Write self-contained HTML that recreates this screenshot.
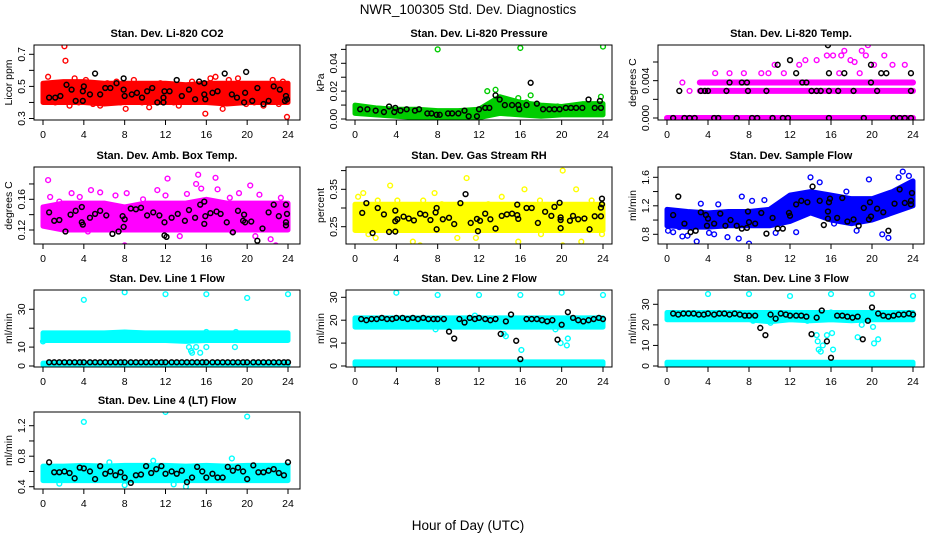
<!DOCTYPE html>
<html><head><meta charset="utf-8"><style>
html,body{margin:0;padding:0;background:#fff;}
svg{display:block;font-family:"Liberation Sans",Arial,sans-serif;}
</style></head><body>
<svg id="chart" width="936" height="540" viewBox="0 0 936 540" xmlns="http://www.w3.org/2000/svg">
<rect x="0" y="0" width="936" height="540" fill="#fff"/>
<text x="468" y="14" text-anchor="middle" font-size="13.5">NWR_100305  Std. Dev. Diagnostics</text>
<text x="468" y="530" text-anchor="middle" font-size="13.5">Hour of Day (UTC)</text>
</svg>
<script>
// ---------- shared data ----------
const bandHrs = [0,2,4,6,8,10,12,14,16,18,20,22,24];
const xTicks = [0,4,8,12,16,20,24];
const blkHr = [0.6,1.1,1.6,2.1,2.6,3.1,3.6,4.0,4.6,5.1,5.6,6.1,6.6,7.1,7.6,8.0,8.6,9.1,9.6,10.1,10.6,11.1,11.6,12.0,12.6,13.1,13.6,14.1,14.6,15.1,15.6,16.0,16.6,17.1,17.6,18.1,18.6,19.1,19.6,20.0,20.6,21.1,21.6,22.1,22.6,23.1,23.6,24.0];

// P1 CO2
const co2BandLo = [0.40,0.40,0.40,0.39,0.40,0.40,0.40,0.40,0.40,0.39,0.40,0.40,0.40];
const co2BandHi = [0.52,0.53,0.53,0.52,0.52,0.52,0.52,0.51,0.52,0.52,0.52,0.52,0.52];
const co2Hr = [0.1,0.5,1.2,1.8,2.1,2.2,2.6,3.1,3.5,4.2,4.9,5.6,6.3,7.2,7.6,8.1,8.9,9.7,10.4,11.5,12.8,13.3,14.6,15.9,16.4,16.9,17.6,18.2,19.1,19.9,20.7,21.6,22.5,23.1,23.5,23.9];
const co2Val = [0.42,0.56,0.40,0.44,0.75,0.66,0.38,0.55,0.40,0.54,0.39,0.38,0.52,0.53,0.40,0.36,0.54,0.40,0.37,0.52,0.40,0.38,0.53,0.33,0.55,0.56,0.36,0.54,0.55,0.39,0.40,0.38,0.54,0.39,0.53,0.31];
const co2BlkHr = [0.6,1.2,1.7,2.3,2.8,3.2,3.9,4.0,3.9,4.6,5.1,5.6,6.1,6.6,7.2,7.9,8.0,7.9,8.7,9.2,9.7,10.2,10.7,11.2,11.8,11.9,11.8,12.4,13.1,13.6,14.3,14.9,15.3,15.8,15.9,15.8,16.6,17.1,17.8,18.5,19.0,19.7,19.9,19.8,20.5,21.0,21.6,22.1,22.6,23.2,23.8,23.9,23.7];
const co2BlkVal = [0.43,0.43,0.44,0.51,0.48,0.41,0.41,0.50,0.47,0.45,0.58,0.45,0.49,0.49,0.52,0.55,0.44,0.48,0.45,0.46,0.43,0.47,0.49,0.40,0.43,0.47,0.40,0.47,0.54,0.44,0.48,0.42,0.53,0.52,0.42,0.45,0.46,0.47,0.58,0.45,0.43,0.40,0.59,0.46,0.41,0.49,0.39,0.41,0.50,0.48,0.44,0.42,0.41];

// P2 Pressure
const presBandLo = [0.004,0.003,0.002,0.001,0.001,0.001,0.001,0.004,0.003,0.002,0.003,0.003,0.003];
const presBandHi = [0.010,0.008,0.007,0.007,0.006,0.006,0.007,0.016,0.012,0.010,0.009,0.011,0.011];
const presHr = [8,16,24,12.8,13.6,17,14.2,15.8,16.6,18.2,19.6,21.3,23.8];
const presVal = [0.050,0.051,0.052,0.020,0.021,0.017,0.014,0.015,0.012,0.003,0.009,0.004,0.016];
const presBlkHr = [0.5,1.2,2,2.8,3.3,3.8,3.9,4.4,5.0,5.8,6.2,7.0,7.4,7.9,8.2,9.0,9.4,10.0,10.6,11.0,11.8,12.0,12.6,13.0,13.6,14.0,14.5,15.2,15.8,15.9,16.6,17.0,17.6,18.2,18.8,19.3,19.8,20.4,20.9,21.4,22.0,22.6,23.2,23.7,23.8];
const presBlkVal = [0.007,0.007,0.006,0.005,0.009,0.005,0.008,0.006,0.007,0.006,0.007,0.004,0.004,0.003,0.003,0.004,0.004,0.004,0.006,0.002,0.002,0.007,0.008,0.008,0.017,0.014,0.010,0.010,0.010,0.007,0.010,0.026,0.011,0.007,0.007,0.007,0.007,0.008,0.008,0.008,0.008,0.014,0.008,0.013,0.008];

// P3 Li-820 Temp (discrete levels)
const tempLevels = [0,0.0029,0.0038];
const tempLevelStart = [0,3.2,3.2];
const tempLevelEnd = [24,24,24];
const tempHr = [1.5,2.2,4.7,6.1,7.5,9.2,9.9,10.5,11.4,12.9,13.5,14.6,15.6,16.2,17.0,17.3,17.9,18.3,19.0,19.4,19.6,20.2,21.2,22.0,23.2,23.9,18.8,16.8];
const tempVal = [0.0038,0.0029,0.0048,0.0048,0.0048,0.0048,0.0048,0.0057,0.0048,0.0057,0.0062,0.0062,0.0067,0.0067,0.0067,0.0072,0.0062,0.0060,0.0072,0.0067,0.0078,0.0057,0.0067,0.0057,0.0057,0.0038,0.0048,0.0048];
const tempBlkHr = [0.6,1.2,1.7,2.2,2.7,3.3,3.7,4.0,4.6,5.0,5.8,6.1,6.8,7.3,7.8,7.9,8.3,8.8,9.7,10.3,10.8,11.3,11.8,12.0,12.6,13.2,13.6,14.1,14.6,15.0,15.8,15.8,15.7,15.8,16.7,17.3,18.2,19.2,19.9,19.9,20.5,20.9,21.4,22.1,22.7,23.2,23.8,23.8,23.8];
const tempBlkVal = [0,0.0029,0,0,0,0.0029,0.0029,0.0029,0,0,0.0029,0.0038,0,0.0038,0.0038,0.0029,0,0,0.0029,0,0.0057,0,0,0.0062,0.0048,0.0038,0.0038,0.0029,0.0029,0.0029,0.0048,0.0029,0.0078,0,0.0029,0.0048,0.0029,0,0.0057,0.0038,0.0029,0.0048,0.0048,0,0,0,0,0.0048,0.0029];

// P4 Amb Box Temp
const ambBandLo = [0.125,0.12,0.12,0.12,0.12,0.12,0.12,0.12,0.12,0.12,0.12,0.12,0.12];
const ambBandHi = [0.15,0.155,0.155,0.155,0.15,0.155,0.155,0.155,0.16,0.155,0.155,0.155,0.155];
const ambHr = [0.5,0.7,1.6,2.8,3.6,4.7,5.6,7.1,8.0,8.2,9.8,11.2,12.2,12.0,14.1,15.0,15.2,15.5,16.9,17.1,18.3,19.2,20.3,21.2,22.3,22.8,23.3,4.4,6.8,13.4,18.5,20.8];
const ambVal = [0.185,0.163,0.157,0.168,0.163,0.172,0.169,0.165,0.100,0.168,0.160,0.172,0.187,0.165,0.167,0.180,0.192,0.174,0.188,0.173,0.162,0.168,0.178,0.166,0.108,0.100,0.162,0.118,0.115,0.112,0.118,0.112];
const ambBlkHr = [0.6,1.1,1.6,2.2,2.7,3.2,3.8,3.9,3.8,4.6,5.1,5.6,6.2,6.8,7.4,7.9,7.8,8.0,8.6,9.1,9.6,10.2,10.8,11.4,11.9,12.1,11.9,12.6,13.2,13.9,14.3,14.9,15.4,15.8,15.8,15.9,16.4,17.0,17.4,18.0,18.6,19.1,19.7,19.8,19.6,20.4,21.0,21.5,22.1,22.6,23.1,23.8,23.9,23.8,23.8];
const ambBlkVal = [0.143,0.132,0.133,0.118,0.140,0.145,0.150,0.127,0.130,0.136,0.141,0.145,0.139,0.115,0.118,0.124,0.138,0.134,0.148,0.147,0.149,0.139,0.143,0.139,0.130,0.111,0.113,0.136,0.141,0.132,0.146,0.136,0.153,0.157,0.128,0.138,0.142,0.144,0.141,0.130,0.117,0.145,0.140,0.130,0.132,0.131,0.106,0.122,0.143,0.153,0.138,0.153,0.141,0.126,0.130];

// P5 Gas Stream RH
const rhBandLo = [0.24,0.24,0.24,0.24,0.24,0.24,0.24,0.24,0.24,0.24,0.24,0.24,0.24];
const rhBandHi = [0.31,0.31,0.31,0.31,0.31,0.31,0.31,0.31,0.31,0.31,0.31,0.31,0.31];
const rhHr = [0.3,0.8,1.3,2.2,3.4,4.1,5.6,6.3,6.6,7.7,8.4,9.9,10.8,11.7,12.9,14.2,15.8,16.4,17.9,20.1,20.1,21.4,21.9,22.9,23.9,1.2,2.0,18.0];
const rhVal = [0.33,0.34,0.23,0.32,0.36,0.32,0.21,0.20,0.32,0.34,0.31,0.22,0.38,0.22,0.31,0.33,0.21,0.35,0.32,0.40,0.20,0.35,0.21,0.32,0.23,0.24,0.22,0.23];
const rhBlkHr = [0.7,1.1,1.7,2.2,2.8,3.3,3.9,3.9,3.9,4.1,4.7,5.2,5.7,6.3,6.8,7.3,7.8,7.9,7.9,8.5,9.1,9.6,10.2,10.7,11.2,11.8,11.9,12.1,12.6,13.1,13.6,14.2,14.7,15.2,15.7,15.7,15.8,16.6,17.1,17.7,18.4,19.0,19.3,19.9,19.8,19.9,19.9,20.8,21.1,21.6,22.2,22.7,23.2,23.8,23.8,23.9,23.9];
const rhBlkVal = [0.287,0.313,0.233,0.300,0.283,0.236,0.237,0.293,0.265,0.27,0.277,0.272,0.267,0.285,0.282,0.268,0.288,0.300,0.243,0.27,0.274,0.257,0.313,0.337,0.26,0.271,0.238,0.266,0.285,0.27,0.245,0.279,0.283,0.285,0.281,0.309,0.271,0.300,0.300,0.26,0.29,0.279,0.303,0.275,0.314,0.268,0.246,0.266,0.279,0.27,0.272,0.243,0.278,0.278,0.301,0.31,0.325];

// P6 Sample Flow
const sfBandLo = [0.92,0.9,0.9,0.92,0.92,0.92,0.98,1.1,1.0,0.95,1.0,1.1,1.2];
const sfBandHi = [1.15,1.12,1.1,1.12,1.12,1.15,1.35,1.4,1.35,1.3,1.3,1.4,1.55];
const sfHr = [0.1,0.6,1.2,1.5,2.0,2.9,3.3,4.1,4.6,5.0,5.9,7.0,7.3,8.0,8.3,9.5,10.6,12.6,14.0,14.9,16.3,17.5,18.5,19.7,20.3,21.0,21.6,22.6,23.0,23.6];
const sfVal = [0.85,0.83,0.9,0.77,0.78,0.7,1.23,0.82,0.8,1.22,0.76,0.74,1.33,0.67,1.27,1.28,0.82,0.83,1.6,1.53,0.95,1.4,0.85,1.57,1.3,0.8,0.75,1.6,1.68,1.62];
const sfBlkHr = [0.6,1.1,1.7,2.3,2.8,3.3,3.8,3.9,4.0,4.6,5.2,5.7,6.2,6.8,7.3,7.8,7.9,8.0,8.6,9.2,9.7,10.3,10.8,11.3,11.9,12.0,12.6,13.1,13.7,14.2,14.9,15.3,15.7,15.7,15.8,15.9,16.6,17.1,17.6,18.2,18.7,19.2,19.7,19.9,19.8,20.5,21.1,21.6,22.2,22.7,23.2,23.8,23.9,23.8];
const sfBlkVal = [1.07,1.33,0.95,0.83,0.85,1.11,1.07,0.92,1.02,0.95,1.09,0.92,1.0,0.92,0.88,0.89,1.12,0.97,0.95,1.1,0.81,1.03,0.88,0.88,1.1,1.06,1.22,1.27,1.25,1.47,1.27,0.93,1.02,1.12,1.25,1.3,1.03,1.31,0.98,1.01,0.92,1.17,1.01,1.05,1.25,1.16,1.11,0.85,1.23,1.43,1.24,1.22,1.38,1.27];

// P7 Line 1 Flow
const l1BandLo = [13.5,13.5,13.5,13.5,13.5,13.5,13.5,13,13.5,13.5,13.5,13.5,13.5];
const l1BandHi = [17.5,17.5,17.5,17.5,18,17.5,17.5,17.5,17.5,17.5,17.5,17.5,17.5];
const l1LowLo = [0.5,0.5,0.5,0.5,0.5,0.5,0.5,0.5,0.5,0.5,0.5,0.5,0.5];
const l1LowHi = [1.5,1.5,1.5,1.5,1.5,1.5,1.5,1.5,1.5,1.5,1.5,1.5,1.5];
const l1Hr = [4,8,12,16,20,24,14.3,14.5,14.6,15.0,15.4,16.0,18.8,16.0,18.9,0];
const l1Val = [35,39,38,38,36,38,10,8,7,10,7,10,10,18,18,13];
const l1BlkVal = [2,2,2,2,2,2,2,2,2,2,2,2,2,2,2,2,2,2,2,2,2,2,2,2,2,2,2,2,2,2,2,2,2,2,2,2,2,2,2,2,2,2,2,2,2,2,2,2];

// P8 Line 2 Flow
const l2BandLo = [17,17,17,17,17,17,17,17,17,17,17,17,17];
const l2BandHi = [21,21,21,21,21,21,21,21,21,21,21,21,21];
const l2LowLo = [0.5,0.5,0.5,0.5,0.5,0.5,0.5,0.5,0.5,0.5,0.5,0.5,0.5];
const l2LowHi = [1.8,1.8,1.8,1.8,1.8,1.8,1.8,1.8,1.8,1.8,1.8,1.8,1.8];
const l2Hr = [4,8,12,16,20,24,14.6,14.4,16.1,19.9,20.5,20.6,7.8,19.4,17.0,11.6];
const l2Val = [32,31,31,31,32,31,13,14,7,10,9,12,16,16,20,22];
const l2BlkVal = [20.5,20,20.5,20.5,21,20.5,20.5,21,21,20.5,21,20.5,21,20.5,20.5,20.5,20.5,15,12,20.5,19,21,20.5,21,20.5,20,20.5,14,19.5,22.5,11,3,20.5,20.5,20.5,20,19.5,20,11.5,18,23.5,21,20,19.5,20,20.5,21,20.5];

// P9 Line 3 Flow
const l3BandLo = [22.5,22.5,22.5,22.5,22.5,21.5,22.5,22,22.5,22,22.5,22.5,22.5];
const l3BandHi = [26,26,26,26,26,26,26,26,26,26,26,26,26];
const l3LowLo = [0.5,0.5,0.5,0.5,0.5,0.5,0.5,0.5,0.5,0.5,0.5,0.5,0.5];
const l3LowHi = [1.8,1.8,1.8,1.8,1.8,1.8,1.8,1.8,1.8,1.8,1.8,1.8,1.8];
const l3Hr = [4,8,12,16,20,24,14.6,14.7,14.8,15.0,15.2,15.6,16.1,16.2,16.0,18.6,19.0,20.1,20.2,20.6,8.4,10.1,13.7,21.8];
const l3Val = [35,35,34,35,35,34,15,12,8,7,10,15,16,8,26,14,20,19,11,13,22,21,22,23];
const l3BlkVal = [25.5,25,25.5,25.5,25.5,25,25,25.5,25,25.5,25.5,25,25.5,25,24.5,24.5,24.5,18.5,15,25,23,25.5,25,24.5,24.5,24.5,24,15.5,23.5,27,12,4,24.5,24.5,24,23.5,24,13,22,28.5,25.5,24.5,24,24.5,25,25,25.5,25];

// P10 Line 4 (LT) Flow
const l4BandLo = [0.48,0.48,0.48,0.48,0.48,0.48,0.48,0.48,0.48,0.48,0.48,0.48,0.48];
const l4BandHi = [0.67,0.67,0.68,0.67,0.68,0.68,0.68,0.67,0.68,0.67,0.68,0.68,0.68];
const l4Hr = [4,12,20,14,12.8,1.6,8,18.5,23.8,6.5,10.8];
const l4Val = [1.25,1.38,1.32,0.40,0.43,0.44,0.42,0.77,0.68,0.72,0.74];
const l4BlkVal = [0.72,0.59,0.59,0.60,0.58,0.51,0.65,0.64,0.60,0.50,0.67,0.57,0.60,0.55,0.59,0.52,0.45,0.55,0.56,0.67,0.58,0.63,0.67,0.57,0.60,0.57,0.61,0.46,0.52,0.66,0.60,0.52,0.57,0.52,0.52,0.66,0.61,0.65,0.60,0.50,0.68,0.59,0.59,0.61,0.63,0.58,0.55,0.72];

// ---------- rendering ----------
const NS = "http://www.w3.org/2000/svg";
const svg = document.getElementById("chart");
function mk(tag, attrs, parent) {
  const e = document.createElementNS(NS, tag);
  for (const k in attrs) e.setAttribute(k, attrs[k]);
  (parent || svg).appendChild(e);
  return e;
}
const cols = [{L:34,R:300,x0:43,x24:288},{L:346,R:612,x0:355,x24:603},{L:658,R:924,x0:667,x24:913}];
const rows = [{T:45,B:120},{T:167,B:244},{T:290,B:367},{T:412,B:489}];

const panels = [
  {key:"co2",title:"Stan. Dev. Li-820 CO2",ylab:"Licor ppm",c:0,r:0,color:"#ff0000",v1:0.3,p1:118.5,v2:0.7,p2:54.3,ticks:[0.3,0.4,0.5,0.6,0.7],labels:["0.3","","0.5","","0.7"],
   bands:[[co2BandLo,co2BandHi]],hr:co2Hr,val:co2Val,bh:co2BlkHr,bv:co2BlkVal},
  {key:"pressure",title:"Stan. Dev. Li-820 Pressure",ylab:"kPa",c:1,r:0,color:"#00cc00",v1:0,p1:119,v2:0.04,p2:63.3,ticks:[0,0.01,0.02,0.03,0.04,0.05],labels:["0.00","","0.02","","0.04",""],
   bands:[[presBandLo,presBandHi]],hr:presHr,val:presVal,bh:presBlkHr,bv:presBlkVal},
  {key:"li820-temp",title:"Stan. Dev. Li-820 Temp.",ylab:"degrees C",c:2,r:0,color:"#ff00ff",v1:0,p1:118,v2:0.006,p2:62,ticks:[0,0.002,0.004,0.006],labels:["0.000","","0.004",""],
   levels:true,hr:tempHr,val:tempVal,bh:tempBlkHr,bv:tempBlkVal},
  {key:"amb-box-temp",title:"Stan. Dev. Amb. Box Temp.",ylab:"degrees C",c:0,r:1,color:"#ff00ff",v1:0.12,p1:230,v2:0.16,p2:199.3,ticks:[0.12,0.14,0.16,0.18],labels:["0.12","","0.16",""],
   bands:[[ambBandLo,ambBandHi]],hr:ambHr,val:ambVal,bh:ambBlkHr,bv:ambBlkVal},
  {key:"gas-stream-rh",title:"Stan. Dev. Gas Stream RH",ylab:"percent",c:1,r:1,color:"#ffff00",v1:0.25,p1:226.7,v2:0.35,p2:189.3,ticks:[0.25,0.30,0.35,0.40],labels:["0.25","","0.35",""],
   bands:[[rhBandLo,rhBandHi]],hr:rhHr,val:rhVal,bh:rhBlkHr,bv:rhBlkVal},
  {key:"sample-flow",title:"Stan. Dev. Sample Flow",ylab:"ml/min",c:2,r:1,color:"#0000ff",v1:0.8,p1:234.3,v2:1.6,p2:177.3,ticks:[0.8,1.0,1.2,1.4,1.6],labels:["0.8","","1.2","","1.6"],
   bands:[[sfBandLo,sfBandHi]],hr:sfHr,val:sfVal,bh:sfBlkHr,bv:sfBlkVal},
  {key:"line1-flow",title:"Stan. Dev. Line 1 Flow",ylab:"ml/min",c:0,r:2,color:"#00ffff",v1:0,p1:366,v2:30,p2:309.3,ticks:[0,10,20,30],labels:["0","10","","30"],
   bands:[[l1BandLo,l1BandHi],[l1LowLo,l1LowHi]],hr:l1Hr,val:l1Val,bh:blkHr,bv:l1BlkVal},
  {key:"line2-flow",title:"Stan. Dev. Line 2 Flow",ylab:"ml/min",c:1,r:2,color:"#00ffff",v1:0,p1:366,v2:30,p2:297.3,ticks:[0,10,20,30],labels:["0","10","20","30"],
   bands:[[l2BandLo,l2BandHi],[l2LowLo,l2LowHi]],hr:l2Hr,val:l2Val,bh:blkHr,bv:l2BlkVal},
  {key:"line3-flow",title:"Stan. Dev. Line 3 Flow",ylab:"ml/min",c:2,r:2,color:"#00ffff",v1:0,p1:366,v2:30,p2:304.3,ticks:[0,10,20,30],labels:["0","10","20","30"],
   bands:[[l3BandLo,l3BandHi],[l3LowLo,l3LowHi]],hr:l3Hr,val:l3Val,bh:blkHr,bv:l3BlkVal},
  {key:"line4-flow",title:"Stan. Dev. Line 4 (LT) Flow",ylab:"ml/min",c:0,r:3,color:"#00ffff",v1:0.4,p1:486.7,v2:1.2,p2:425.7,ticks:[0.4,0.6,0.8,1.0,1.2],labels:["0.4","","0.8","","1.2"],
   bands:[[l4BandLo,l4BandHi]],hr:l4Hr,val:l4Val,bh:blkHr,bv:l4BlkVal}
];

panels.forEach(p => {
  const col = cols[p.c], row = rows[p.r];
  const xs = h => col.x0 + h * (col.x24 - col.x0) / 24;
  const ys = v => p.p1 + (v - p.v1) * (p.p2 - p.p1) / (p.v2 - p.v1);
  const g = mk("g", {});
  
  
  const cx = (col.L + col.R) / 2;
  const t = mk("text", {x:cx, y:row.T - 8, "text-anchor":"middle", "font-size":"11", "font-weight":"bold"}, g);
  t.textContent = p.title;
  
  
  // y label
  const yl = mk("text", {x:0, y:0, "text-anchor":"middle", "font-size":"10.5", transform:`translate(${col.L-22},${(row.T+row.B)/2}) rotate(-90)`}, g);
  yl.textContent = p.ylab;
  
  
  // data layer (clipped)
  const clipId = "clip-" + p.key;
  const cp = mk("clipPath", {id:clipId}, g);
  mk("rect", {x:col.L, y:row.T, width:col.R-col.L, height:row.B-row.T}, cp);
  const d = mk("g", {"clip-path":`url(#${clipId})`}, g);
  
  
  if (p.bands) {
    p.bands.forEach((b, bi) => {
      const lo = b[0], hi = b[1];
      let pts = bandHrs.map((h, i) => xs(h) + "," + ys(hi[i]));
      pts = pts.concat(bandHrs.slice().reverse().map((h, j) => { const i = bandHrs.length - 1 - j; return xs(h) + "," + ys(lo[i]); }));
      const poly = mk("polygon", {points:pts.join(" "), fill:p.color, stroke:p.color, "stroke-width":"5", "stroke-linejoin":"round"}, d);
      
      
    });
  }
  if (p.levels) {
    tempLevels.forEach((lv, i) => {
      const ln = mk("line", {x1:xs(tempLevelStart[i]), x2:xs(tempLevelEnd[i]), y1:ys(lv), y2:ys(lv), stroke:p.color, "stroke-width":"6", "stroke-linecap":"round"}, d);
      
      
    });
  }
  p.hr.forEach((h, i) => {
    const c = mk("circle", {cx:xs(h), cy:ys(p.val[i]), r:2.4, fill:"none", stroke:p.color, "stroke-width":"1.4"}, d);
    
    
  });
  p.bh.forEach((h, i) => {
    const c = mk("circle", {cx:xs(h), cy:ys(p.bv[i]), r:2.4, fill:"none", stroke:"#000", "stroke-width":"1.5"}, d);
    
    
  });
  // box
  const bx = mk("rect", {x:col.L, y:row.T, width:col.R-col.L, height:row.B-row.T, fill:"none", stroke:"#000", "stroke-width":"1"}, g);
  
  
  // y ticks
  const ya = mk("g", {}, g);
  
  
  p.ticks.forEach((tv, i) => {
    const y = ys(tv);
    mk("line", {x1:col.L-5, x2:col.L, y1:y, y2:y, stroke:"#000", "stroke-width":"1"}, ya);
    if (p.labels[i]) {
      const tl = mk("text", {x:0, y:0, "text-anchor":"middle", "font-size":"10.5", transform:`translate(${col.L-9},${y}) rotate(-90)`}, ya);
      tl.textContent = p.labels[i];
      
      
    }
  });
  // x ticks
  const xa = mk("g", {}, g);
  
  
  xTicks.forEach(h => {
    const x = xs(h);
    mk("line", {x1:x, x2:x, y1:row.B, y2:row.B+5, stroke:"#000", "stroke-width":"1"}, xa);
    const tl = mk("text", {x:x, y:row.B+18, "text-anchor":"middle", "font-size":"10.5"}, xa);
    tl.textContent = String(h);
    
    
  });
});
</script>
</body></html>
